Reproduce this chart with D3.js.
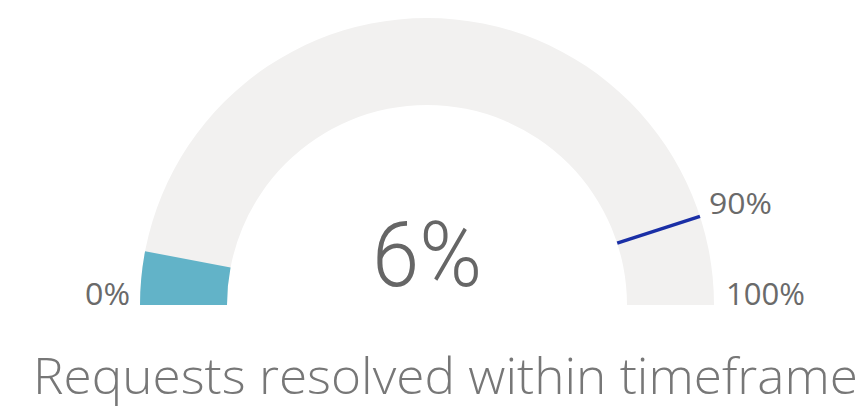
<!DOCTYPE html>
<html><head><meta charset="utf-8">
<script src="https://cdn.jsdelivr.net/npm/d3@7"></script>
<style>body{margin:0;background:#fff;}svg{display:block;}</style>
</head><body>
<script>
const minValue = [0];
const maxValue = [100];
const actualValue = [6];
const targetValue = [90];
const title = ["Requests resolved within timeframe"];
const minLabel = ["0%"], maxLabel = ["100%"], targetLabel = ["90%"], valueLabel = ["6%"];

const W = 867, H = 410;
const svg = d3.select("body").append("svg").attr("width", W).attr("height", H);
const cx = 427, cy = 305, rOuter = 287, rInner = 200;
const angle = d3.scaleLinear().domain([minValue[0], maxValue[0]]).range([-Math.PI/2, Math.PI/2]);
const g = svg.append("g").attr("transform", `translate(${cx},${cy})`);
const arc = d3.arc().innerRadius(rInner).outerRadius(rOuter);

g.append("path").attr("d", arc({startAngle: angle(minValue[0]), endAngle: angle(maxValue[0])})).attr("fill", "#f2f1f0");
g.append("path").attr("d", arc({startAngle: angle(minValue[0]), endAngle: angle(actualValue[0])})).attr("fill", "#62b3c8");

const ta = angle(targetValue[0]);
g.append("line")
  .attr("x1", rInner*Math.sin(ta)).attr("y1", -rInner*Math.cos(ta))
  .attr("x2", rOuter*Math.sin(ta)).attr("y2", -rOuter*Math.cos(ta))
  .attr("stroke", "#1a2fa6").attr("stroke-width", 3.5);

const lblFont = "'Open Sans', sans-serif";
svg.append("text").attr("x", 85).attr("y", 305)
  .attr("font-family", lblFont).attr("font-size", 31).attr("fill", "#6a6a6a")
  .attr("textLength", 45).attr("lengthAdjust", "spacingAndGlyphs").text(minLabel[0]);
svg.append("text").attr("x", 726).attr("y", 305)
  .attr("font-family", lblFont).attr("font-size", 31).attr("fill", "#6a6a6a")
  .attr("textLength", 79).attr("lengthAdjust", "spacingAndGlyphs").text(maxLabel[0]);
svg.append("text").attr("x", 709).attr("y", 214)
  .attr("font-family", lblFont).attr("font-size", 30).attr("fill", "#6a6a6a")
  .attr("textLength", 63).attr("lengthAdjust", "spacingAndGlyphs").text(targetLabel[0]);

svg.append("text").attr("x", 427).attr("y", 286).attr("text-anchor", "middle")
  .attr("font-family", "Roboto, sans-serif").attr("font-weight", 300).attr("font-size", 90)
  .attr("fill", "#666").attr("textLength", 110).attr("lengthAdjust", "spacingAndGlyphs").text(valueLabel[0]);

svg.append("text").attr("x", 33).attr("y", 394)
  .attr("font-family", lblFont).attr("font-weight", 300).attr("font-size", 49)
  .attr("fill", "#777").attr("textLength", 825).attr("lengthAdjust", "spacingAndGlyphs").text(title[0]);
</script>
</body></html>
